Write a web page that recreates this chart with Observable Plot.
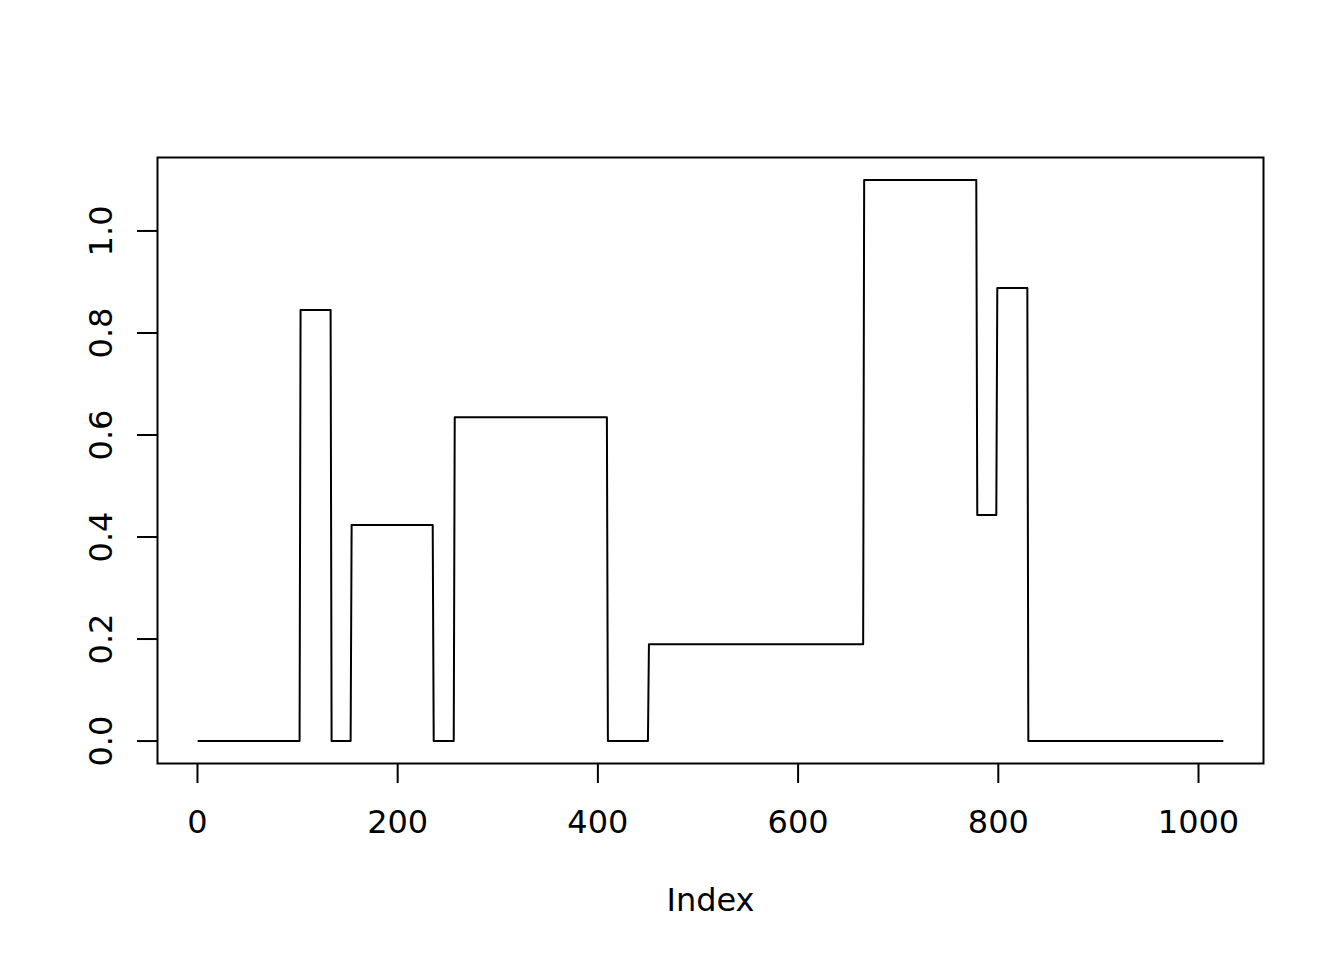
<!DOCTYPE html>
<html>
<head>
<meta charset="utf-8">
<script src="https://cdn.jsdelivr.net/npm/d3@7"></script>
<script src="https://cdn.jsdelivr.net/npm/@observablehq/plot@0.6"></script>
<style>
  html, body { margin: 0; padding: 0; background: #fff; }
  #chart svg { display: block; }
</style>
</head>
<body>
<div id="chart"></div>
<script>
// Piecewise-constant series (index ranges and their levels)
const segStart = [1, 103, 134, 154, 236, 257, 410, 451, 666, 779, 799, 830];
const segEnd   = [102, 133, 153, 235, 256, 409, 450, 665, 778, 798, 829, 1024];
const levels   = [0, 0.845, 0, 0.4235, 0, 0.635, 0, 0.19, 1.1, 0.443, 0.888, 0];

const xTicks = [0, 200, 400, 600, 800, 1000];
const yTicks = [0, 0.2, 0.4, 0.6, 0.8, 1.0];
const yTickLabels = ["0.0", "0.2", "0.4", "0.6", "0.8", "1.0"];
const xLabel = "Index";

// Build polyline points from the segment table
const points = [];
segStart.forEach((s, i) => {
  points.push({index: s, value: levels[i]});
  points.push({index: segEnd[i], value: levels[i]});
});

const n = 1024;
const xPad = 0.04 * (n - 1);
const yMin = 0, yMax = 1.1, yPad = 0.04 * (yMax - yMin);

const chart = Plot.plot({
  width: 1344,
  height: 960,
  marginLeft: 157,
  marginRight: 81,
  marginTop: 157,
  marginBottom: 197,
  style: {fontFamily: "DejaVu Sans", fontSize: "32px", color: "#000", background: "#fff"},
  x: {domain: [1 - xPad, n + xPad]},
  y: {domain: [yMin - yPad, yMax + yPad]},
  marks: [
    Plot.frame({stroke: "#000", strokeWidth: 2}),
    Plot.axisX({ticks: xTicks, tickSize: 20, tickPadding: 27, strokeWidth: 2, fontSize: 32, label: null, tickFormat: d => String(d)}),
    Plot.axisY({ticks: yTicks, tickSize: 20, strokeWidth: 2, label: null, tickFormat: () => ""}),
    Plot.text(yTicks, {y: d => d, text: (d, i) => yTickLabels[i], frameAnchor: "left", dx: -56, rotate: -90, textAnchor: "middle", lineAnchor: "middle", fontSize: 32, fill: "#000"}),
    Plot.text([xLabel], {text: d => d, frameAnchor: "bottom", dy: 137, lineAnchor: "middle", fontSize: 32, fill: "#000"}),
    Plot.line(points, {x: "index", y: "value", stroke: "#000", strokeWidth: 2})
  ]
});
document.getElementById("chart").appendChild(chart);
</script>
</body>
</html>
